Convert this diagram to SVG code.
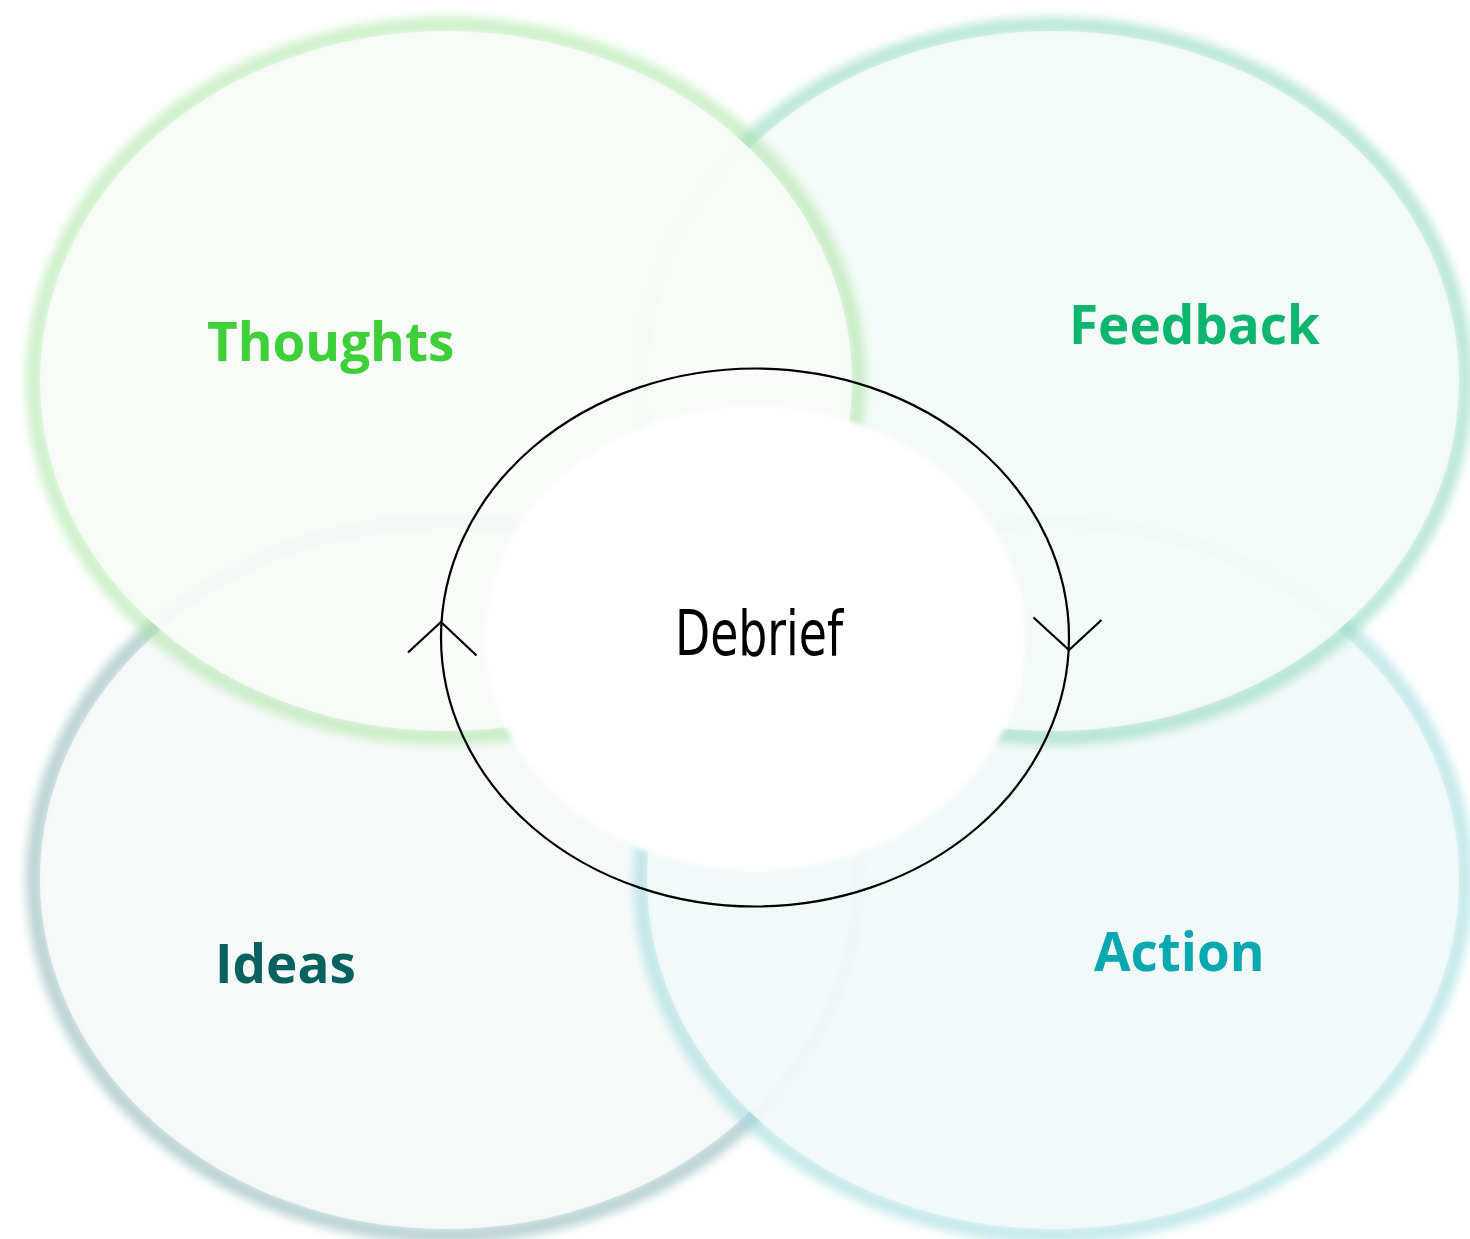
<svg xmlns="http://www.w3.org/2000/svg" width="1470" height="1239" viewBox="0 0 1470 1239">
<defs>
<filter id="glow" x="-10%" y="-10%" width="120%" height="120%"><feGaussianBlur stdDeviation="5"/></filter>
<filter id="soft" x="-10%" y="-10%" width="120%" height="120%"><feGaussianBlur stdDeviation="2.5"/></filter>
</defs>
<style>
.label{font-family:"Open Sans","Liberation Sans",sans-serif;font-weight:700;font-size:53px}
.rim{fill:none;stroke-width:16;filter:url(#glow)}
.face{fill-opacity:0.93}
.conn{fill:none;stroke:#000;stroke-width:2.2}
</style>
<rect width="1470" height="1239" fill="#fff"/>
<g id="ideas">
<ellipse class="rim" cx="446" cy="879" rx="412" ry="356" stroke="#8fb6b9" stroke-opacity="0.6"/>
<ellipse class="face" cx="446" cy="879" rx="406" ry="350" fill="#f6f9f9"/>
<text class="label" x="215" y="983" fill="#05625f">Ideas</text>
</g>
<g id="action">
<ellipse class="rim" cx="1053" cy="879" rx="412" ry="356" stroke="#9fdadd" stroke-opacity="0.6"/>
<ellipse class="face" cx="1053" cy="879" rx="406" ry="350" fill="#f1f9f9"/>
<text class="label" x="1094" y="971" fill="#08a8b0">Action</text>
</g>
<g id="feedback">
<ellipse class="rim" cx="1053" cy="381" rx="412" ry="356" stroke="#8fd9bd" stroke-opacity="0.6"/>
<ellipse class="face" cx="1053" cy="381" rx="406" ry="350" fill="#f3faf8"/>
<text class="label" x="1069" y="344" fill="#0db56e">Feedback</text>
</g>
<g id="thoughts">
<ellipse class="rim" cx="446" cy="381" rx="412" ry="356" stroke="#a6e49f" stroke-opacity="0.55"/>
<ellipse class="face" cx="446" cy="381" rx="406" ry="350" fill="#f8fbf8"/>
<text class="label" x="207" y="361" fill="#3dd038">Thoughts</text>
</g>
<g id="debrief">
<ellipse cx="755.5" cy="638.5" rx="270" ry="232" fill="#fff" filter="url(#soft)"/>
<text x="675" y="655" font-family="'DejaVu Sans Condensed','DejaVu Sans',sans-serif" font-stretch="condensed" font-size="62" textLength="168" lengthAdjust="spacingAndGlyphs" fill="#000">Debrief</text>
</g>
<g id="connectors">
<ellipse class="conn" cx="755" cy="637.5" rx="314" ry="269"/>
<polyline class="conn" points="408,652.5 441,622 476.5,655.5"/>
<polyline class="conn" points="1033.5,617.5 1069,650 1101.5,620"/>
</g>
</svg>
